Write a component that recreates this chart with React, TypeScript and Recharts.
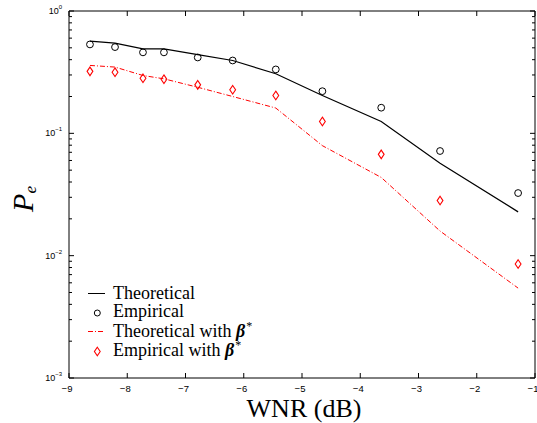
import React from 'react';
import { ComposedChart, Line, XAxis, YAxis, Legend } from 'recharts';

const wnr = [-8.64, -8.21, -7.73, -7.37, -6.79, -6.19, -5.45, -4.65, -3.64, -2.63, -1.29];
const theoretical = [0.568, 0.547, 0.49, 0.49, 0.44, 0.394, 0.307, 0.204, 0.125, 0.057, 0.0228];
const empirical = [0.533, 0.507, 0.459, 0.459, 0.417, 0.394, 0.333, 0.221, 0.162, 0.0717, 0.0325];
const theoreticalBeta = [0.359, 0.348, 0.297, 0.279, 0.238, 0.2, 0.161, 0.0793, 0.0436, 0.0159, 0.00543];
const empiricalBeta = [0.321, 0.316, 0.282, 0.277, 0.249, 0.227, 0.204, 0.125, 0.0673, 0.0282, 0.00855];

const xTicks = [-9, -8, -7, -6, -5, -4, -3, -2, -1];
const yDecades = [-3, -2, -1, 0];
const legendLabels = ['Theoretical', 'Empirical', 'Theoretical with ', 'Empirical with '];

const yTicks: number[] = [];
for (const e of [-3, -2, -1]) {
  for (let k = 1; k <= 9; k++) yTicks.push(Number((k * Math.pow(10, e)).toPrecision(3)));
}
yTicks.push(1);

const data = wnr.map((x, i) => ({
  x,
  theo: theoretical[i],
  emp: empirical[i],
  theoB: theoreticalBeta[i],
  empB: empiricalBeta[i],
}));

const SANS = '"Liberation Sans", Arial, sans-serif';
const SERIF = '"Liberation Serif", "Times New Roman", serif';
const RED = '#ff0000';

const isMajor = (v: number) => Math.abs(Math.log10(v) - Math.round(Math.log10(v))) < 1e-6;
const expLabel = (e: number) => (e < 0 ? '\u2212' + Math.abs(e) : String(e));

const LeftTick = (props: any) => {
  const { x, y, payload } = props;
  const v = payload.value;
  const major = isMajor(v);
  const e = Math.round(Math.log10(v));
  return (
    <g>
      <line x1={x} y1={y} x2={x + (major ? 5 : 3)} y2={y} stroke="#000" strokeWidth={1} />
      {major && yDecades.includes(e) ? (
        <text x={x - 7} y={y + 3} textAnchor="end" fontSize={9} fontFamily={SANS} fill="#000">
          <tspan>10</tspan>
          <tspan dy={-5} fontSize={6}>{expLabel(e)}</tspan>
        </text>
      ) : null}
    </g>
  );
};

const RightTick = (props: any) => {
  const { x, y, payload } = props;
  const major = isMajor(payload.value);
  return <line x1={x} y1={y} x2={x - (major ? 5 : 3)} y2={y} stroke="#000" strokeWidth={1} />;
};

const BottomTick = (props: any) => {
  const { x, y, payload } = props;
  const v = payload.value;
  return (
    <g>
      <line x1={x} y1={y} x2={x} y2={y - 5} stroke="#000" strokeWidth={1} />
      <text x={x - 2} y={y + 14} textAnchor="middle" fontSize={9.5} fontFamily={SANS} fill="#000">
        {v < 0 ? '\u2212' + Math.abs(v) : String(v)}
      </text>
    </g>
  );
};

const TopTick = (props: any) => {
  const { x, y } = props;
  return <line x1={x} y1={y} x2={x} y2={y + 5} stroke="#000" strokeWidth={1} />;
};

const CircleDot = (props: any) => {
  const { cx, cy, index } = props;
  if (cx == null || cy == null) return <g key={index} />;
  return <circle key={index} cx={cx} cy={cy} r={3.4} fill="none" stroke="#000" strokeWidth={1} />;
};

const DiamondDot = (props: any) => {
  const { cx, cy, index } = props;
  if (cx == null || cy == null) return <g key={index} />;
  const d = `M${cx},${cy - 4.3}L${cx + 2.9},${cy}L${cx},${cy + 4.3}L${cx - 2.9},${cy}Z`;
  return <path key={index} d={d} fill="none" stroke={RED} strokeWidth={1.1} />;
};

const XLabel = () => (
  <text x={304} y={417} textAnchor="middle" fontSize={26} fontFamily={SERIF} fill="#000">
    WNR (dB)
  </text>
);

const YLabel = () => (
  <text
    x={33}
    y={199}
    transform="rotate(-90 33 199)"
    textAnchor="middle"
    fontFamily={SERIF}
    fontStyle="italic"
    fill="#000"
  >
    <tspan fontSize={30}>P</tspan>
    <tspan fontSize={17} dy={3}>e</tspan>
  </text>
);

const LegendBox = () => {
  const tx = 113;
  const rows = [299, 317, 336.5, 356];
  return (
    <svg width={537} height={423} style={{ position: 'absolute', left: 0, top: 0 }}>
      <line x1={88} y1={293.5} x2={105} y2={293.5} stroke="#000" strokeWidth={1} />
      <circle cx={97.3} cy={313} r={3} fill="none" stroke="#000" strokeWidth={1} />
      <line x1={88} y1={331.5} x2={105} y2={331.5} stroke={RED} strokeWidth={1} strokeDasharray="5 2 1 2" />
      <path d="M97.3,347.2L100.2,351.5L97.3,355.8L94.4,351.5Z" fill="none" stroke={RED} strokeWidth={1.1} />
      {legendLabels.map((t, i) => (
        <text key={i} x={tx} y={rows[i]} fontSize={18} fontFamily={SERIF} fill="#000">
          {t}
          {i >= 2 ? (
            <>
              <tspan fontWeight="bold" fontStyle="italic">{'\u03B2'}</tspan>
              <tspan dx={1} dy={-7} fontSize={12}>*</tspan>
            </>
          ) : null}
        </text>
      ))}
    </svg>
  );
};

export default function App() {
  return (
    <div style={{ position: 'absolute', left: 0, top: 0, width: 537, height: 423, background: '#fff' }}>
      <ComposedChart
        width={537}
        height={423}
        data={data}
        margin={{ top: 10, right: 1, bottom: 15, left: 9 }}
      >
        <XAxis
          dataKey="x"
          type="number"
          domain={[-9, -1]}
          ticks={xTicks}
          interval={0}
          allowDataOverflow
          height={30}
          tickSize={0}
          tickMargin={0}
          tick={<BottomTick />}
          axisLine={{ stroke: '#000', strokeWidth: 1 }}
          tickLine={false}
          label={XLabel}
        />
        <XAxis
          xAxisId="top"
          orientation="top"
          dataKey="x"
          type="number"
          domain={[-9, -1]}
          ticks={xTicks}
          interval={0}
          allowDataOverflow
          height={1}
          tickSize={0}
          tickMargin={0}
          tick={<TopTick />}
          axisLine={{ stroke: '#000', strokeWidth: 1 }}
          tickLine={false}
        />
        <YAxis
          type="number"
          scale="log"
          domain={[0.001, 1]}
          ticks={yTicks}
          interval={0}
          allowDataOverflow
          width={60}
          tickSize={0}
          tickMargin={0}
          tick={<LeftTick />}
          axisLine={{ stroke: '#000', strokeWidth: 1 }}
          tickLine={false}
          label={YLabel}
        />
        <YAxis
          yAxisId="right"
          orientation="right"
          type="number"
          scale="log"
          domain={[0.001, 1]}
          ticks={yTicks}
          interval={0}
          allowDataOverflow
          width={1}
          tickSize={0}
          tickMargin={0}
          tick={<RightTick />}
          axisLine={{ stroke: '#000', strokeWidth: 1 }}
          tickLine={false}
        />
        <Line
          dataKey="theo"
          stroke="#000"
          strokeWidth={1.2}
          dot={false}
          isAnimationActive={false}
        />
        <Line
          dataKey="theoB"
          stroke={RED}
          strokeWidth={1}
          strokeDasharray="5 2 1 2"
          dot={false}
          isAnimationActive={false}
        />
        <Line
          dataKey="emp"
          xAxisId="top"
          yAxisId="right"
          stroke="none"
          dot={<CircleDot />}
          isAnimationActive={false}
        />
        <Line
          dataKey="empB"
          stroke="none"
          dot={<DiamondDot />}
          isAnimationActive={false}
        />
        <Legend
          layout="vertical"
          align="center"
          verticalAlign="middle"
          content={LegendBox}
          wrapperStyle={{ position: 'absolute', left: 0, top: 0, width: 537, height: 423, pointerEvents: 'none' }}
        />
      </ComposedChart>
    </div>
  );
}
